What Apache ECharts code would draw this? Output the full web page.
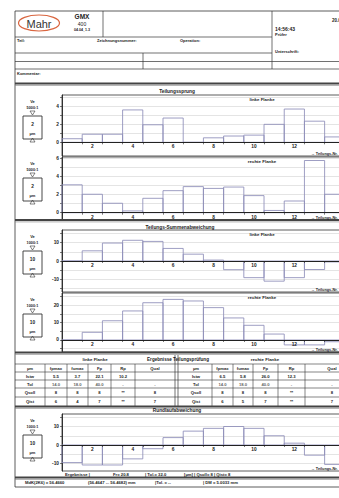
<!DOCTYPE html>
<html><head><meta charset="utf-8">
<script src="https://cdn.jsdelivr.net/npm/echarts@6/dist/echarts.min.js"></script>
<style>
html,body{margin:0;padding:0;overflow:hidden;background:#fff;width:339px;height:498px}
#c{position:absolute;left:0;top:0;width:364px;height:498px}
</style></head><body><div id="c"></div>
<script>
// ---------- data ----------
const teeth = [1,2,3,4,5,6,7,8,9,10,11,12,13,14];
const xLabelTeeth = [2,4,6,8,10,12];
const fuLeft  = [0.4,0.9,0.9,3.6,1.95,2.7,0,0.5,0.7,0.8,2.0,3.7,2.35,0.6];
const fuRight = [3.1,2.05,1.05,0.2,1.6,2.45,2.9,2.7,2.85,1.9,0.25,1.3,5.8,2.05];
const fpSumLeft  = [0,5.5,9.7,11.2,10.6,6.8,3.7,0.5,-4.7,-9.0,-10.9,-9.0,-4.6,-0.5];
const fpSumRight = [0,4.4,11.0,16.6,21.3,23.2,22.3,18.5,12.6,8.4,3.4,-2.8,-2.8,-1.0];
const runout = [-9.5,-10.8,-10.8,-7.5,-2.0,4.0,7.5,9.0,10.0,9.0,5.0,1.0,-5.5,-10.5];

const fuTicks = [0,1,2,3,4,5];        const fuLabels = [0,2,4];
const fuTicksR = [0,1,2,3,4,5,6];     const fuLabelsR = [0,2,4,6];
const sumTicksL = [-15,-10,-5,0,5,10,15]; const sumLabelsL = [-10,0,10];
const sumTicksR = [-5,0,5,10,15,20,25];   const sumLabelsR = [0,10,20];
const runTicks = [-10,-5,0,5,10,15];      const runLabels = [-10,0,10];

const tableCols = ['µm','fpmax','fumax','Fp','Rp','Qual'];
const rowNames = ['Istw','Tol','Qsoll','Qist'];
const leftIstw  = ['5.5','3.7','22.1','10.2',''];
const leftTol   = ['14.0','18.0','40.0','-','-'];
const leftQsoll = ['8','8','8','**','8'];
const leftQist  = ['6','4','7','**','7'];
const rightIstw  = ['6.5','5.8','26.0','12.3',''];
const rightTol   = ['14.0','18.0','40.0','-','-'];
const rightQsoll = ['8','8','8','**','8'];
const rightQist  = ['6','5','7','**','7'];

// ---------- helpers ----------
const FONT = '"Liberation Sans", Arial, sans-serif';
const DARK = '#333';
const BAR = '#8c8cb8';
const G = [];
function L(x1,y1,x2,y2,w,c){G.push({type:'line',silent:true,z:20,shape:{x1,y1,x2,y2},style:{stroke:c||DARK,lineWidth:w||0.7}});}
function T(x,y,s,o){o=o||{};G.push({type:'text',silent:true,z:21,x:x,y:y,style:{text:s,font:(o.bold?'bold ':'')+(o.size||4.6)+'px '+FONT,fill:o.color||'#222',align:o.align||'left',textAlign:o.align||'left',verticalAlign:'middle',textVerticalAlign:'middle'}});}
function thick(y){L(15,y,364,y,1.9,'#444');L(15,y+1.9,364,y+1.9,0.6,'#777');}

// ---------- header ----------
L(15,11,364,11,0.8);
L(15,11,15,487,0.8);
G.push({type:'ellipse',silent:true,z:20,shape:{cx:39,cy:23,rx:20.5,ry:8},style:{fill:'none',stroke:'#d9653f',lineWidth:1.2}});
T(39,23.5,'Mahr',{size:11,align:'center',color:'#333'});
T(82,16.5,'GMX',{size:6.5,bold:true,align:'center'});
T(82,23.5,'400',{size:5,align:'center'});
T(82,30,'04.04_1.3',{size:3.6,align:'center',bold:true});
L(103,11,103,37);
L(272,11,272,69);
L(15,37,272,37);
L(15,53,272,53);
L(15,61.5,364,61.5);
L(15,69,364,69);
L(143,53,143,69);
T(17,40.5,'Teil:',{size:4,bold:true});
T(97,40.5,'Zeichnungsnummer:',{size:4,bold:true});
T(180,40.5,'Operation:',{size:4,bold:true});
T(275,29,'14:56:43',{size:5,bold:true});
T(275,34.5,'Prüfer',{size:4,bold:true});
T(275,51,'Unterschrift:',{size:4,bold:true});
T(332,20,'20.05.2008',{size:4.5,bold:true});
T(17,73,'Kommentar:',{size:4,bold:true});
thick(83.5);

// ---------- charts ----------
const charts = [
  {data:fuLeft,  top:95,  height:61, min:-1.52, max:5.26, ticks:fuTicks,  labels:fuLabels,  ve:'5000:1', unit:'2',  flank:'linke Flanke'},
  {data:fuRight, top:157, height:63, min:-0.81, max:6.19, ticks:fuTicksR, labels:fuLabelsR, ve:'5000:1', unit:'2',  flank:'rechte Flanke'},
  {data:fpSumLeft, top:230, height:62, min:-16.76, max:16.76, ticks:sumTicksL, labels:sumLabelsL, ve:'1000:1', unit:'10', flank:'linke Flanke'},
  {data:fpSumRight,top:293, height:59, min:-6.86, max:26.86, ticks:sumTicksR, labels:sumLabelsR, ve:'1000:1', unit:'10', flank:'rechte Flanke'},
  {data:runout,  top:414, height:57, min:-14.05, max:16.76, ticks:runTicks, labels:runLabels, ve:'1000:1', unit:'10', flank:''}
];
const boundaries = [0.5].concat(teeth.map(t=>t+0.5));

const grids=[], xAxes=[], yAxes=[], series=[];
charts.forEach((c,i)=>{
  const zeroOffset = -c.height*(0-c.min)/(c.max-c.min);
  grids.push({left:62,top:c.top,width:300,height:c.height,show:true,borderColor:DARK,borderWidth:0.8,backgroundColor:'transparent'});
  xAxes.push({type:'value',gridIndex:i,min:0.5,max:15.35,z:10,position:'bottom',offset:zeroOffset,
    axisLine:{show:true,onZero:false,lineStyle:{color:'#222',width:1}},
    axisTick:{show:true,customValues:boundaries,length:2,lineStyle:{color:'#222',width:0.6}},
    axisLabel:{customValues:xLabelTeeth,fontSize:4.8,fontWeight:'bold',color:'#222',margin:2,fontFamily:FONT},
    splitLine:{show:false}});
  yAxes.push({type:'value',gridIndex:i,min:c.min,max:c.max,
    axisLine:{show:true,onZero:false,lineStyle:{color:'#222',width:0.9}},
    axisTick:{show:true,customValues:c.ticks,length:2,lineStyle:{color:'#222',width:0.6}},
    axisLabel:{customValues:c.labels,fontSize:4.8,fontWeight:'bold',color:'#222',margin:3,fontFamily:FONT},
    splitLine:{show:true,lineStyle:{color:'#c8c8c8',width:0.5}}});
  series.push({type:'custom',xAxisIndex:i,yAxisIndex:i,silent:true,z:5,
    data:c.data.map((v,k)=>[teeth[k],v]),
    renderItem:function(params,api){
      const x=api.value(0), v=api.value(1);
      const p0=api.coord([x-0.5,0]), p1=api.coord([x+0.5,v]);
      return {type:'rect',shape:{x:p0[0],y:Math.min(p0[1],p1[1]),width:p1[0]-p0[0],height:Math.abs(p1[1]-p0[1])},
        style:{fill:'none',stroke:BAR,lineWidth:0.85}};
    }});
  // scale indicator at left
  const t=c.top, cx=32.5;
  T(cx,t+6,'Ve',{size:4,align:'center',bold:true});
  T(cx,t+12.5,c.ve,{size:3.8,align:'center',bold:true});
  G.push({type:'polygon',silent:true,z:20,shape:{points:[[cx-2.5,t+16],[cx+2.5,t+16],[cx,t+20]]},style:{fill:'none',stroke:DARK,lineWidth:0.6}});
  G.push({type:'rect',silent:true,z:20,shape:{x:23,y:t+21,width:19,height:23},style:{fill:'none',stroke:DARK,lineWidth:0.9}});
  T(cx,t+29,c.unit,{size:4.8,align:'center',bold:true});
  T(cx,t+38,'µm',{size:4,align:'center',bold:true});
  G.push({type:'polygon',silent:true,z:20,shape:{points:[[cx-2.5,t+47],[cx+2.5,t+47],[cx,t+43]]},style:{fill:'none',stroke:DARK,lineWidth:0.6}});
  if(c.flank) T(262,t+4.5,c.flank,{size:4.4,align:'center',bold:true});
  T(311,t+c.height-2.5,'→ Teilungs-Nr.',{size:3.8,bold:true});
});

// titles & separators
T(177,91,'Teilungssprung',{size:4.8,bold:true,align:'center'});
thick(220);
T(180,227,'Teilungs-Summenabweichung',{size:4.8,bold:true,align:'center'});
thick(352.5);
// ---------- result table ----------
const colL=[15,45,67,88,111,135,175], colR=[178,212,233,253,278,305,364];
const cL=[30,56,77.5,99.5,123,155], cR=[196,222.5,243,265.5,291.5,332];
const rowsY=[364,372,380,388,397];
T(95,359.5,'linke Flanke',{size:4.4,align:'center',bold:true});
T(178,359.5,'Ergebnisse Teilungsprüfung',{size:4.6,bold:true,align:'center'});
T(265,359.5,'rechte Flanke',{size:4.4,align:'center',bold:true});
rowsY.forEach(y=>L(15,y,364,y,0.6));
L(175,355,175,406.5,0.7); L(178,355,178,406.5,0.7);
colL.slice(1,6).forEach(x=>L(x,364,x,406.5,0.6));
colR.slice(1,6).forEach(x=>L(x,364,x,406.5,0.6));
const rowC=[368,376,384,392.5,401.5];
const leftRows=[leftIstw,leftTol,leftQsoll,leftQist], rightRows=[rightIstw,rightTol,rightQsoll,rightQist];
tableCols.forEach((h,k)=>{T(cL[k],rowC[0],h,{size:4.2,align:'center',bold:true});T(cR[k],rowC[0],h,{size:4.2,align:'center',bold:true});});
rowNames.forEach((n,r)=>{
  T(cL[0],rowC[r+1],n,{size:4.2,align:'center',bold:true});
  T(cR[0],rowC[r+1],n,{size:4.2,align:'center',bold:true});
  leftRows[r].forEach((v,k)=>T(cL[k+1],rowC[r+1],v,{size:4.2,align:'center',bold:true,color:r===1?'#666':'#222'}));
  rightRows[r].forEach((v,k)=>T(cR[k+1],rowC[r+1],v,{size:4.2,align:'center',bold:true,color:r===1?'#666':'#222'}));
});
thick(406.5);
T(177,410.5,'Rundlaufabweichung',{size:4.8,bold:true,align:'center'});
// bottom rows
T(65,474.5,'Ergebnisse |',{size:4.2,bold:true});
T(113,474.5,'Fr= 20.8',{size:4.2,bold:true});
T(145,474.5,'| Tol.= 32.0',{size:4.2,bold:true});
T(184,474.5,'[µm] | Qsoll= 8 | Qist= 8',{size:4.2,bold:true});
thick(477.5);
T(25,482.8,'MdK(2K6) = 56.4660',{size:4.2,bold:true});
T(88,482.8,'(56.4647 ... 56.4682) mm',{size:4.2,bold:true});
T(155,482.8,'|Tol. = --',{size:4.2,bold:true});
T(203,482.8,'| DM = 5.0033 mm',{size:4.2,bold:true});
L(15,487,364,487,0.8);

const chart = echarts.init(document.getElementById('c'),null,{renderer:'svg'});
chart.setOption({
  animation:false,
  backgroundColor:'#fff',
  grid:grids, xAxis:xAxes, yAxis:yAxes, series:series,
  graphic:{elements:G}
});
</script></body></html>
